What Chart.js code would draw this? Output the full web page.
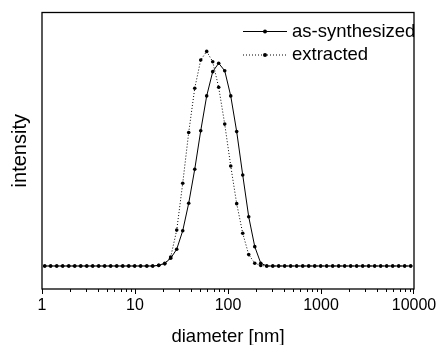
<!DOCTYPE html>
<html>
<head>
<meta charset="utf-8">
<script src="https://cdn.jsdelivr.net/npm/chart.js@4/dist/chart.umd.min.js"></script>
<style>
  html, body { margin: 0; padding: 0; background: #fff; }
  canvas { display: block; }
</style>
</head>
<body>
<canvas id="sizeChart" width="439" height="345"></canvas>
<script>
// particle size distribution
const diameters = [1.07, 1.24, 1.44, 1.67, 1.94, 2.25, 2.61, 3.03, 3.51, 4.07, 4.72, 5.48, 6.36, 7.38, 8.56, 9.93,
    11.5, 13.4, 15.5, 18.0, 20.9, 24.2, 28.1, 32.6, 37.8, 43.9, 50.9, 59.0, 68.5, 79.4, 92.2,
    107, 124, 144, 167, 194, 225, 261, 303, 351, 407, 472, 548, 636, 738, 856, 993,
    1152, 1336, 1550, 1798, 2086, 2421, 2808, 3258, 3780, 4386, 5088, 5902, 6848, 7943, 9216];

const asSynthesized = [0, 0, 0, 0, 0, 0, 0, 0, 0, 0, 0, 0, 0, 0, 0, 0, 0, 0, 0,
    0.3, 1.3, 3.6, 7.8, 16.4, 29.2, 45.0, 62.9, 79.1, 90.4, 94.3, 90.8, 79.1, 62.5, 42.3, 22.9, 9.0, 1.3,
    0, 0, 0, 0, 0, 0, 0, 0, 0, 0, 0, 0, 0, 0, 0, 0, 0, 0, 0, 0, 0, 0, 0, 0, 0];

const extracted = [0, 0, 0, 0, 0, 0, 0, 0, 0, 0, 0, 0, 0, 0, 0, 0, 0, 0, 0,
    0.3, 1.0, 4.2, 16.7, 38.5, 62.1, 82.7, 95.8, 99.8, 95.0, 83.1, 66.0, 46.5, 29.0, 15.2, 5.3, 1.3, 0.2,
    0, 0, 0, 0, 0, 0, 0, 0, 0, 0, 0, 0, 0, 0, 0, 0, 0, 0, 0, 0, 0, 0, 0, 0, 0];

const seriesNames = ['as-synthesized', 'extracted'];
const majorTicks = [1, 10, 100, 1000, 10000];

const FONT = '"Liberation Sans", Arial, Helvetica, sans-serif';

function toPoints(values) {
    return diameters.map((d, i) => ({ x: d, y: values[i] }));
}

// frame, outward log ticks and the legend inside the plot
const decorations = {
    id: 'decorations',
    afterDraw(chart) {
        const ctx = chart.ctx;
        const area = chart.chartArea;
        const xScale = chart.scales.x;
        ctx.save();
        ctx.strokeStyle = '#000';
        ctx.lineWidth = 1.3;
        ctx.strokeRect(area.left, area.top, area.right - area.left, area.bottom - area.top);

        ctx.lineWidth = 1;
        for (let p = 1; p <= 1000; p *= 10) {
            for (let m = 1; m <= 9; m++) {
                const px = Math.round(xScale.getPixelForValue(p * m)) + 0.5;
                const len = m === 1 ? 5 : 3;
                ctx.beginPath();
                ctx.moveTo(px, area.bottom);
                ctx.lineTo(px, area.bottom + len);
                ctx.stroke();
            }
        }
        const last = Math.round(xScale.getPixelForValue(10000)) - 0.5;
        ctx.beginPath();
        ctx.moveTo(last, area.bottom);
        ctx.lineTo(last, area.bottom + 5);
        ctx.stroke();

        // legend
        ctx.font = '18.5px ' + FONT;
        ctx.textBaseline = 'middle';
        ctx.fillStyle = '#000';
        chart.data.datasets.forEach((ds, i) => {
            const y = area.top + 19 + i * 23.5;
            const x0 = area.right - 171;
            const x1 = area.right - 127;
            ctx.setLineDash(ds.borderDash || []);
            ctx.beginPath();
            ctx.moveTo(x0, y);
            ctx.lineTo(x1, y);
            ctx.stroke();
            ctx.setLineDash([]);
            ctx.beginPath();
            ctx.arc((x0 + x1) / 2, y, 2, 0, Math.PI * 2);
            ctx.fill();
            ctx.fillText(ds.label, area.right - 122, y);
        });
        ctx.restore();
    }
};

const ctx = document.getElementById('sizeChart').getContext('2d');
new Chart(ctx, {
    type: 'line',
    data: {
        datasets: [
            {
                label: seriesNames[0],
                data: toPoints(asSynthesized),
                borderColor: '#000',
                borderWidth: 1,
                pointRadius: 1.8,
                pointBackgroundColor: '#000',
                pointBorderWidth: 0,
                tension: 0
            },
            {
                label: seriesNames[1],
                data: toPoints(extracted),
                borderColor: '#000',
                borderWidth: 1,
                borderDash: [1, 2],
                pointRadius: 1.8,
                pointBackgroundColor: '#000',
                pointBorderWidth: 0,
                tension: 0
            }
        ]
    },
    options: {
        responsive: false,
        animation: false,
        devicePixelRatio: 1,
        layout: { padding: { left: 0, top: 12.5, right: 25, bottom: 0 } },
        plugins: {
            legend: { display: false },
            tooltip: { enabled: false }
        },
        scales: {
            x: {
                type: 'logarithmic',
                min: 1,
                max: 10000,
                border: { display: false },
                grid: { display: false, drawTicks: false },
                afterBuildTicks: scale => {
                    scale.ticks = majorTicks.map(v => ({ value: v }));
                },
                afterFit: scale => {
                    scale.height = 56;
                    scale.paddingLeft = 0;
                    scale.paddingRight = 0;
                },
                ticks: {
                    autoSkip: false,
                    maxRotation: 0,
                    padding: 7,
                    color: '#000',
                    font: { family: FONT, size: 16 },
                    callback: value => String(value)
                },
                title: {
                    display: true,
                    text: 'diameter [nm]',
                    color: '#000',
                    font: { family: FONT, size: 18.5, lineHeight: 1 },
                    padding: { top: 0, bottom: -1 }
                }
            },
            y: {
                min: -10.7,
                max: 117.9,
                border: { display: false },
                grid: { display: false, drawTicks: false },
                ticks: { display: false },
                afterFit: scale => { scale.width = 42; },
                title: {
                    display: true,
                    text: 'intensity',
                    color: '#000',
                    font: { family: FONT, size: 20, lineHeight: 1.2 },
                    padding: { top: 8, bottom: 0 }
                }
            }
        }
    },
    plugins: [decorations]
});
</script>
</body>
</html>
